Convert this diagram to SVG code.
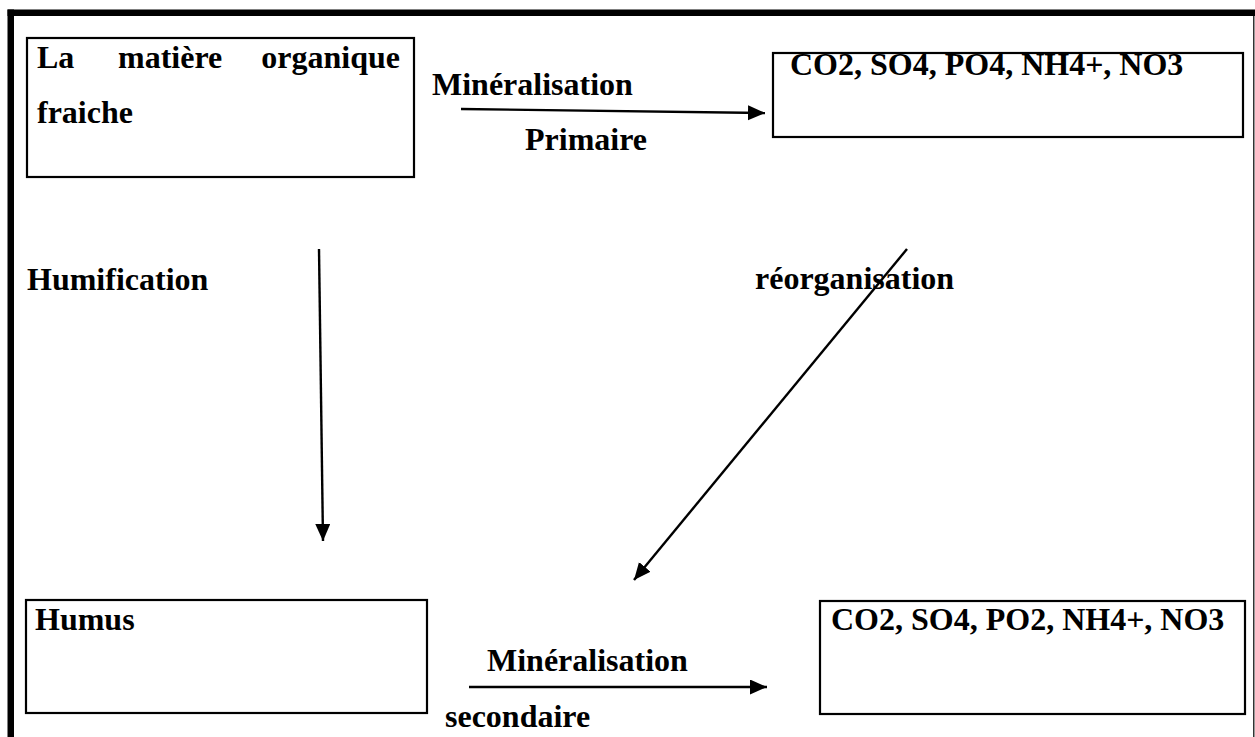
<svg xmlns="http://www.w3.org/2000/svg" width="1255" height="737" viewBox="0 0 1255 737">
<style>
.t{font-family:"Liberation Serif","Times New Roman",serif;font-weight:bold;font-size:32px;fill:#000}
.box{fill:#fff;stroke:#000;stroke-width:2.2}
.c{stroke:#000;stroke-width:2.4;fill:none}
</style>
<defs>
<marker id="ah" markerUnits="userSpaceOnUse" markerWidth="20" markerHeight="16" refX="17" refY="7.5" orient="auto">
<path d="M0,0 L17,7.5 L0,15 Z" fill="#000"/>
</marker>
</defs>
<rect width="1255" height="737" fill="#fff"/>
<g id="frame">
<rect x="7.5" y="9.5" width="1247.5" height="6.5" fill="#000"/>
<rect x="7.5" y="9.5" width="6.5" height="727.5" fill="#000"/>
<rect x="1253" y="16" width="1.5" height="721" fill="#333"/>
</g>
<g id="n1">
<rect class="box" x="27" y="38" width="387" height="139"/>
<text class="t" y="68"><tspan x="37">La</tspan><tspan x="118">matière</tspan><tspan x="400" text-anchor="end">organique</tspan></text>
<text class="t" x="37" y="123">fraiche</text>
</g>
<g id="n2">
<rect class="box" x="773" y="53" width="470" height="84"/>
<text class="t" x="790" y="75">CO2, SO4, PO4, NH4+, NO3</text>
</g>
<g id="n3">
<rect class="box" x="26" y="600" width="401" height="113"/>
<text class="t" x="35" y="630">Humus</text>
</g>
<g id="n4">
<rect class="box" x="820" y="601" width="425" height="113"/>
<text class="t" x="831" y="630">CO2, SO4, PO2, NH4+, NO3</text>
</g>
<g id="connectors">
<line class="c" x1="461" y1="109" x2="765" y2="113" marker-end="url(#ah)"/>
<line class="c" x1="319" y1="249" x2="323" y2="541" marker-end="url(#ah)"/>
<line class="c" x1="907" y1="249" x2="634" y2="580" marker-end="url(#ah)"/>
<line class="c" x1="469" y1="687" x2="767" y2="687" marker-end="url(#ah)"/>
</g>
<g id="labels">
<text class="t" x="432" y="95">Minéralisation</text>
<text class="t" x="525" y="150">Primaire</text>
<text class="t" x="27" y="290">Humification</text>
<text class="t" x="755" y="289">réorganisation</text>
<text class="t" x="487" y="671">Minéralisation</text>
<text class="t" x="445" y="727">secondaire</text>
</g>
</svg>
